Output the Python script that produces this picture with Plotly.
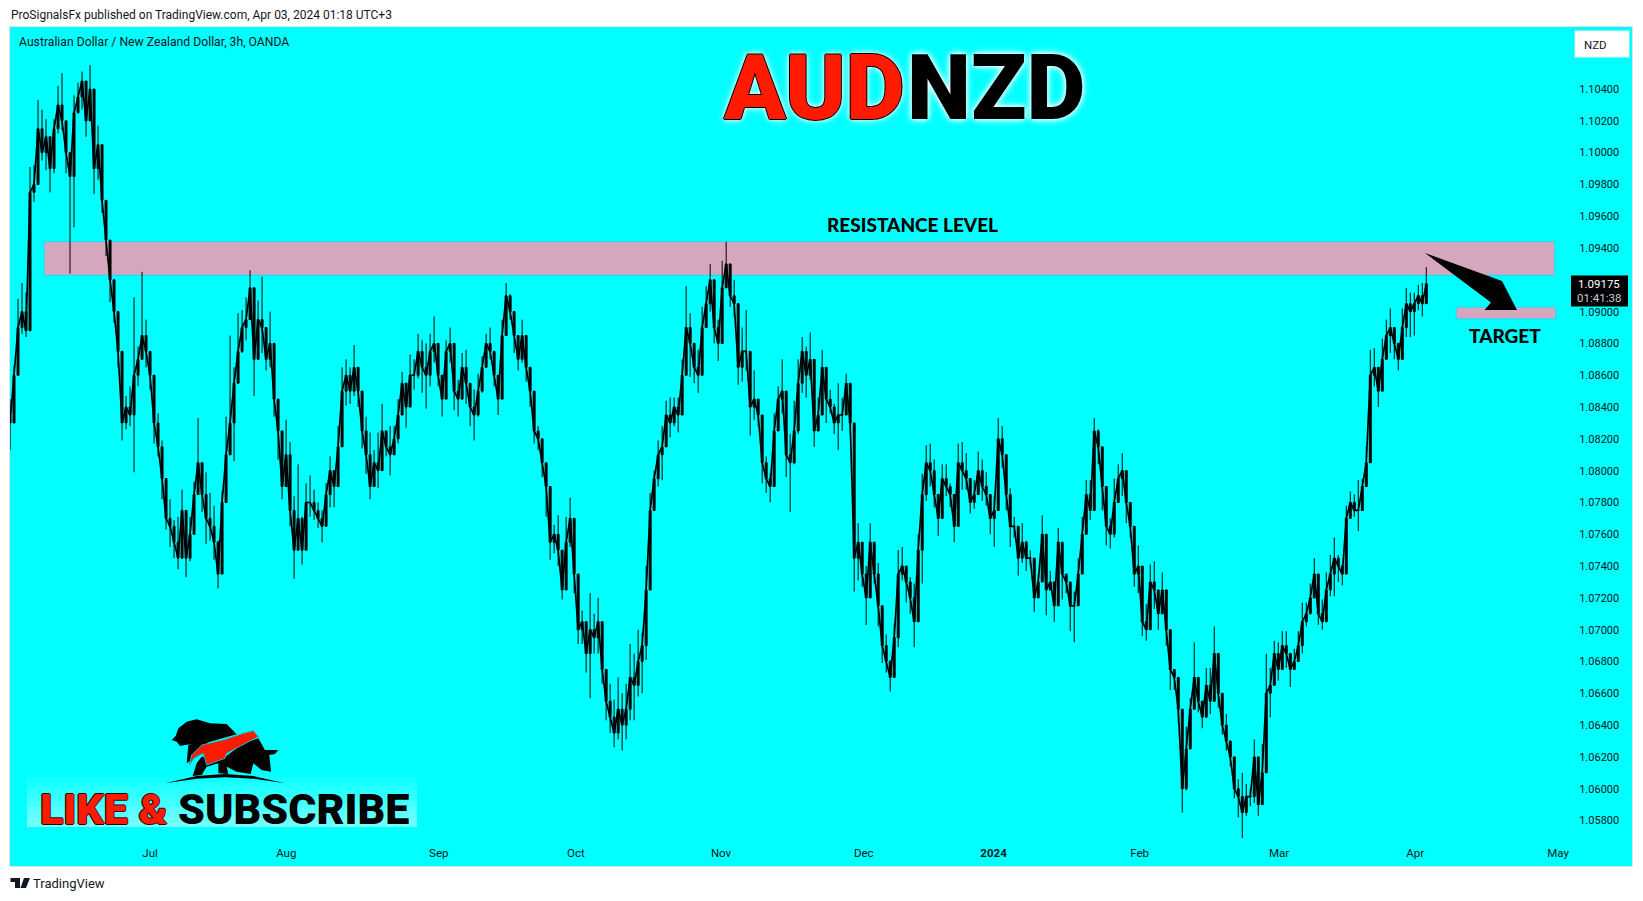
import numpy as np
import plotly.graph_objects as go

# ---- chart data -----------------------------------------------------------
ticker = "AUDNZD"
series_name = "Australian Dollar / New Zealand Dollar, 3h, OANDA"
last_price = 1.09175
countdown = "01:41:38"
price_ticks = [1.104, 1.102, 1.100, 1.098, 1.096, 1.094, 1.090, 1.088, 1.086, 1.084, 1.082,
               1.080, 1.078, 1.076, 1.074, 1.072, 1.070, 1.068, 1.066, 1.064, 1.062, 1.060, 1.058]
month_ticks = ["2023-07-03", "2023-08-01", "2023-09-01 12:00", "2023-10-02 15:00", "2023-11-02", "2023-12-04",
               "2024-01-01", "2024-01-31 12:00", "2024-03-01", "2024-04-01", "2024-05-01"]
month_labels = ["Jul", "Aug", "Sep", "Oct", "Nov", "Dec", "<b>2024</b>", "Feb", "Mar", "Apr", "May"]
resistance_zone = (1.09442, 1.09228)
target_zone = (1.09029, 1.08954)

highs = [
1.0845,1.0866,1.0908,1.0918,1.0912,1.0991,1.0992,1.1033,1.1027,1.1021,1.1008,1.1021,1.1042,1.1050,1.1016,1.0999,
1.1036,1.1044,1.1051,1.1042,1.1055,1.1025,1.1017,1.0983,1.0961,1.0943,1.0918,1.0885,1.0874,1.0847,1.0853,1.0909,
1.0878,1.0925,1.0895,1.0874,1.0857,1.0836,1.0819,1.0782,1.0782,1.0769,1.0771,1.0788,1.0763,1.0771,1.0793,1.0833,
1.0799,1.0799,1.0786,1.0778,1.0756,1.0787,1.0834,1.0885,1.0865,1.0899,1.0901,1.0909,1.0926,1.0884,1.0907,1.0922,
1.0886,1.0900,1.0865,1.0845,1.0817,1.0832,1.0818,1.0784,1.0804,1.0771,1.0792,1.0797,1.0788,1.0780,1.0775,1.0792,
1.0809,1.0797,1.0828,1.0865,1.0870,1.0865,1.0879,1.0859,1.0840,1.0834,1.0824,1.0813,1.0824,1.0842,1.0824,1.0828,
1.0828,1.0845,1.0862,1.0852,1.0873,1.0870,1.0886,1.0882,1.0880,1.0886,1.0897,1.0872,1.0860,1.0882,1.0890,1.0857,
1.0857,1.0874,1.0876,1.0851,1.0851,1.0861,1.0872,1.0886,1.0890,1.0865,1.0859,1.0895,1.0918,1.0911,1.0895,1.0882,
1.0895,1.0878,1.0861,1.0838,1.0828,1.0815,1.0805,1.0768,
1.0766,1.0772,1.0735,1.0771,1.0783,1.0762,1.0716,1.0712,1.0702,1.0723,1.0710,1.0720,1.0691,1.0672,1.0666,1.0656,
1.0670,1.0660,1.0666,1.0691,1.0685,1.0700,1.0698,1.0740,1.0786,1.0800,1.0819,1.0828,1.0844,1.0846,1.0846,1.0846,
1.0870,1.0916,1.0899,1.0878,1.0876,1.0903,1.0916,1.0930,1.0907,1.0895,1.0932,1.0944,1.0924,1.0920,1.0886,1.0890,
1.0901,1.0863,1.0863,1.0842,1.0823,1.0809,1.0798,1.0836,1.0853,1.0870,1.0836,1.0823,1.0844,1.0870,1.0884,1.0878,
1.0887,1.0842,1.0846,1.0876,1.0861,1.0851,1.0842,1.0855,1.0846,1.0861,1.0842,1.0819,1.0767,1.0752,1.0740,1.0767,
1.0748,1.0742,1.0700,1.0697,1.0681,1.0704,1.0750,1.0752,1.0740,1.0733,1.0729,1.0760,1.0798,1.0816,1.0817,1.0807,
1.0781,1.0804,1.0804,1.0792,1.0777,1.0817,1.0818,1.0811,1.0792,1.0794,1.0812,1.0807,1.0799,1.0784,1.0784,1.0833,
1.0828,1.0797,1.0789,1.0771,1.0756,1.0767,1.0756,1.0750,1.0729,1.0735,1.0772,1.0750,1.0737,1.0723,1.0764,1.0752,
1.0735,1.0729,1.0724,1.0745,1.0771,1.0794,1.0794,1.0833,1.0826,
1.0809,1.0778,1.0770,1.0795,1.0804,1.0811,1.0798,1.0771,1.0753,1.0753,1.0714,1.0716,1.0741,1.0743,1.0714,1.0736,
1.0713,1.0690,1.0674,1.0654,1.0640,1.0639,1.0657,1.0692,1.0661,1.0654,1.0676,1.0676,1.0702,1.0671,1.0648,1.0647,
1.0627,1.0608,1.0606,1.0610,1.0603,1.0600,1.0631,1.0606,1.0628,1.0685,1.0676,1.0693,1.0692,1.0699,1.0699,1.0685,
1.0688,1.0699,1.0717,1.0717,1.0729,1.0745,1.0719,1.0719,1.0736,1.0747,1.0758,1.0747,1.0741,1.0778,1.0787,1.0785,
1.0794,1.0795,1.0815,1.0876,1.0877,1.0860,1.0883,1.0895,1.0902,1.0887,1.0880,1.0902,1.0915,1.0912,1.0912,1.0917,
1.0918,1.0928]
lows = [
1.0813,1.0836,1.0886,1.0886,1.0884,1.0907,1.0969,1.1004,1.0995,1.0989,1.0975,1.0987,1.1012,1.1014,1.0987,1.0924,
1.0953,1.1025,1.1027,1.1010,1.1023,1.0974,1.0983,1.0962,1.0935,1.0906,1.0893,1.0865,1.0819,1.0826,1.0828,1.0799,
1.0853,1.0874,1.0865,1.0851,1.0817,1.0809,1.0782,1.0763,1.0752,1.0745,1.0738,1.0754,1.0733,1.0743,1.0763,1.0792,
1.0774,1.0754,1.0756,1.0744,1.0726,1.0764,1.0787,1.0815,1.0806,1.0857,1.0874,1.0882,1.0895,1.0847,1.0872,1.0874,
1.0863,1.0865,1.0834,1.0807,1.0782,1.0800,1.0765,1.0732,1.0760,1.0741,1.0761,1.0771,1.0769,1.0764,1.0755,1.0767,
1.0777,1.0777,1.0800,1.0842,1.0841,1.0842,1.0847,1.0840,1.0814,1.0798,1.0782,1.0798,1.0789,1.0813,1.0809,1.0797,
1.0813,1.0817,1.0840,1.0827,1.0845,1.0851,1.0858,1.0849,1.0839,1.0853,1.0868,1.0853,1.0834,1.0857,1.0868,1.0838,
1.0834,1.0847,1.0842,1.0828,1.0819,1.0834,1.0849,1.0865,1.0870,1.0853,1.0835,1.0865,1.0895,1.0895,1.0874,1.0863,
1.0868,1.0856,1.0840,1.0817,1.0813,1.0796,1.0771,1.0744,
1.0748,1.0740,1.0719,1.0733,1.0752,1.0723,1.0691,1.0691,1.0673,1.0657,1.0685,1.0685,1.0666,1.0643,1.0635,1.0626,
1.0631,1.0624,1.0631,1.0643,1.0643,1.0658,1.0660,1.0681,1.0729,1.0786,1.0790,1.0794,1.0815,1.0821,1.0828,1.0824,
1.0844,1.0874,1.0859,1.0855,1.0849,1.0880,1.0900,1.0900,1.0880,1.0869,1.0890,1.0916,1.0903,1.0897,1.0854,1.0856,
1.0863,1.0822,1.0832,1.0828,1.0792,1.0786,1.0780,1.0790,1.0836,1.0836,1.0796,1.0774,1.0804,1.0823,1.0849,1.0846,
1.0857,1.0815,1.0828,1.0851,1.0830,1.0836,1.0823,1.0813,1.0825,1.0842,1.0823,1.0724,1.0731,1.0727,1.0703,1.0731,
1.0729,1.0702,1.0679,1.0673,1.0661,1.0679,1.0689,1.0731,1.0717,1.0710,1.0689,1.0729,1.0729,1.0781,1.0790,1.0777,
1.0759,1.0786,1.0784,1.0777,1.0755,1.0786,1.0788,1.0788,1.0773,1.0776,1.0790,1.0781,1.0778,1.0760,1.0752,1.0786,
1.0802,1.0775,1.0752,1.0758,1.0734,1.0742,1.0737,1.0740,1.0711,1.0723,1.0740,1.0709,1.0725,1.0705,1.0740,1.0719,
1.0723,1.0699,1.0692,1.0717,1.0746,1.0773,1.0769,1.0792,1.0804,
1.0775,1.0753,1.0751,1.0758,1.0787,1.0784,1.0767,1.0758,1.0727,1.0723,1.0696,1.0693,1.0716,1.0713,1.0700,1.0710,
1.0690,1.0662,1.0662,1.0641,1.0585,1.0599,1.0641,1.0656,1.0648,1.0638,1.0656,1.0647,1.0671,1.0651,1.0634,1.0624,
1.0614,1.0594,1.0582,1.0569,1.0583,1.0589,1.0591,1.0583,1.0600,1.0645,1.0645,1.0668,1.0668,1.0682,1.0676,1.0664,
1.0676,1.0684,1.0685,1.0702,1.0710,1.0721,1.0703,1.0700,1.0716,1.0721,1.0721,1.0730,1.0728,1.0753,1.0770,1.0771,
1.0762,1.0778,1.0798,1.0832,1.0853,1.0840,1.0852,1.0871,1.0874,1.0870,1.0863,1.0880,1.0884,1.0884,1.0885,1.0901,
1.0897,1.0911]
closes = [
1.0830,1.0860,1.0890,1.0900,1.0888,1.0975,1.0980,1.1015,1.1000,1.1010,1.0990,1.1015,1.1030,1.1020,1.1000,1.0985,
1.1025,1.1035,1.1045,1.1020,1.1040,1.0990,1.1005,1.0970,1.0945,1.0920,1.0900,1.0875,1.0830,1.0840,1.0835,1.0860,
1.0870,1.0885,1.0875,1.0860,1.0830,1.0815,1.0795,1.0770,1.0765,1.0755,1.0745,1.0775,1.0745,1.0760,1.0785,1.0805,
1.0785,1.0770,1.0765,1.0755,1.0735,1.0780,1.0810,1.0830,1.0855,1.0875,1.0890,1.0895,1.0915,1.0870,1.0895,1.0890,
1.0870,1.0880,1.0845,1.0825,1.0790,1.0810,1.0775,1.0750,1.0770,1.0750,1.0780,1.0780,1.0775,1.0770,1.0765,1.0785,
1.0800,1.0790,1.0815,1.0850,1.0860,1.0850,1.0865,1.0850,1.0825,1.0810,1.0790,1.0805,1.0800,1.0825,1.0815,1.0810,
1.0820,1.0835,1.0855,1.0840,1.0860,1.0860,1.0875,1.0865,1.0860,1.0875,1.0880,1.0860,1.0845,1.0875,1.0880,1.0850,
1.0845,1.0865,1.0855,1.0840,1.0835,1.0850,1.0865,1.0880,1.0875,1.0860,1.0845,1.0885,1.0910,1.0900,1.0885,1.0870,
1.0885,1.0865,1.0850,1.0825,1.0820,1.0805,1.0790,1.0755,
1.0760,1.0750,1.0725,1.0755,1.0770,1.0735,1.0700,1.0705,1.0685,1.0700,1.0695,1.0705,1.0675,1.0655,1.0645,1.0635,
1.0650,1.0640,1.0650,1.0670,1.0665,1.0680,1.0690,1.0725,1.0775,1.0795,1.0810,1.0815,1.0835,1.0830,1.0840,1.0835,
1.0860,1.0890,1.0880,1.0865,1.0860,1.0890,1.0905,1.0920,1.0890,1.0880,1.0915,1.0930,1.0910,1.0905,1.0865,1.0875,
1.0875,1.0840,1.0845,1.0835,1.0805,1.0795,1.0790,1.0825,1.0845,1.0850,1.0810,1.0805,1.0825,1.0855,1.0875,1.0860,
1.0870,1.0825,1.0835,1.0865,1.0845,1.0840,1.0830,1.0835,1.0835,1.0855,1.0830,1.0745,1.0755,1.0735,1.0720,1.0755,
1.0735,1.0715,1.0690,1.0680,1.0670,1.0695,1.0735,1.0740,1.0730,1.0720,1.0705,1.0750,1.0785,1.0805,1.0800,1.0785,
1.0770,1.0795,1.0790,1.0785,1.0765,1.0805,1.0800,1.0795,1.0780,1.0785,1.0800,1.0790,1.0785,1.0770,1.0775,1.0820,
1.0810,1.0785,1.0765,1.0765,1.0745,1.0755,1.0745,1.0745,1.0720,1.0730,1.0760,1.0725,1.0730,1.0715,1.0755,1.0735,
1.0730,1.0715,1.0715,1.0735,1.0760,1.0785,1.0775,1.0825,1.0815,
1.0790,1.0765,1.0760,1.0780,1.0795,1.0800,1.0780,1.0765,1.0735,1.0740,1.0705,1.0700,1.0730,1.0725,1.0710,1.0725,
1.0700,1.0675,1.0670,1.0650,1.0600,1.0625,1.0650,1.0670,1.0655,1.0645,1.0665,1.0655,1.0685,1.0660,1.0640,1.0630,
1.0620,1.0600,1.0595,1.0585,1.0595,1.0595,1.0620,1.0590,1.0610,1.0660,1.0665,1.0685,1.0675,1.0690,1.0685,1.0675,
1.0680,1.0690,1.0705,1.0710,1.0720,1.0735,1.0710,1.0705,1.0725,1.0735,1.0745,1.0740,1.0735,1.0770,1.0780,1.0775,
1.0775,1.0790,1.0805,1.0860,1.0865,1.0850,1.0870,1.0885,1.0890,1.0880,1.0870,1.0890,1.0905,1.0900,1.0905,1.0910,
1.0905,1.09175]

opens = [closes[0] + 0.0004] + closes[:-1]

# time of each sampled bar: weekdays counted from the first July session
FIRST_WD, STEP_WD = -21.58, 0.6166
def wd_date(wd):
    d = np.floor(wd)
    day = np.busday_offset("2023-07-03", int(d), roll="forward")
    return str(np.datetime64(day, "m") + np.timedelta64(int(round((wd - d) * 1440)), "m"))
dates = [wd_date(FIRST_WD + i * STEP_WD) for i in range(len(closes))]

# ---- page geometry ---------------------------------------------------------
L, R, T, B = 10, 1632, 27, 866
W, H = 1643, 901
def px(x, y):
    return (x - L) / (R - L), (B - y) / (B - T)
def poly(points, fill, width=0, color=None, closed=True):
    xy = [px(*p) for p in points]
    path = "M " + " L ".join(f"{a:.5f},{b:.5f}" for a, b in xy) + (" Z" if closed else "")
    return dict(type="path", xref="paper", yref="paper", path=path, fillcolor=fill,
                line=dict(width=width, color=color or fill), layer="above")
def rect(x0, y0, x1, y1, fill, line_w=0, line_c=None, radius=False):
    a, b = px(x0, y0); c, d = px(x1, y1)
    return dict(type="rect", xref="paper", yref="paper", x0=a, y0=b, x1=c, y1=d, fillcolor=fill,
                line=dict(width=line_w, color=line_c or fill), layer="above")
def label(x, y, text, size, color="#131722", family="Roboto", anchor="center", weight=None, shadow=None):
    a, b = px(x, y)
    f = dict(size=size, color=color, family=family)
    if weight: f["weight"] = weight
    if shadow: f["shadow"] = shadow
    return dict(xref="paper", yref="paper", x=a, y=b, text=text, showarrow=False, font=f,
                xanchor=anchor, yanchor="middle", align=anchor)

CYAN = "#00FFFF"
fig = go.Figure()
fig.add_trace(go.Scatter(x=dates, y=closes, mode="lines", line=dict(color="#000000", width=1.7),
                         showlegend=False, hoverinfo="skip"))
fig.add_trace(go.Candlestick(
    x=dates, open=opens, high=highs, low=lows, close=closes,
    increasing=dict(line=dict(color="#000000", width=1), fillcolor="#000000"),
    decreasing=dict(line=dict(color="#000000", width=1), fillcolor="#000000"),
    whiskerwidth=0, showlegend=False, hoverinfo="skip"))

Z = "#D5A6BD"
shapes = [
    dict(type="rect", xref="x", yref="y", x0="2023-06-08 16:00", x1="2024-04-30 12:00",
         y0=resistance_zone[1], y1=resistance_zone[0], fillcolor=Z, line=dict(color="#00E5FF", width=1), layer="below"),
    dict(type="rect", xref="x", yref="y", x0="2024-04-09 07:00", x1="2024-04-30 16:00",
         y0=target_zone[1], y1=target_zone[0], fillcolor=Z, line=dict(color="#00E5FF", width=1), layer="below"),
    # arrow from the resistance area down to the target
    poly([(1425, 253), (1502, 281), (1517, 310), (1484.5, 310), (1491, 302.5)], "#000000"),
    # last price tag
    rect(1571, 275.5, 1628, 306.5, "#000000"),
    # currency button
    rect(1575, 31, 1629, 57, "#FFFFFF", 1, "#E8ECF2"),
]
# glow behind the subscribe banner
for k in range(11):
    y0 = 772 + k * 5
    shapes.append(rect(27, y0, 417, y0 + 5, f"rgba(255,255,255,{0.045 * k + 0.01:.3f})"))
# logo
def zp(pts):
    return [(10 + a / 3, 700 + b / 3) for a, b in pts]
shapes += [
    poly(zp([(485, 120), (497, 108), (505, 85), (530, 65), (560, 58), (600, 70), (650, 72), (680, 103), (590, 128),
             (550, 132), (525, 135), (510, 138), (500, 125)]), "#000000"),
    poly(zp([(530, 190), (535, 135), (590, 120), (600, 150), (560, 170)]), "#000000"),
    poly(zp([(560, 190), (575, 170), (640, 175), (700, 130), (745, 115), (765, 150), (805, 150), (795, 162), (778, 165),
             (783, 215), (755, 210), (730, 190), (722, 222), (680, 215), (650, 200), (655, 222), (625, 220), (625, 190),
             (590, 200), (575, 225), (548, 228)]), "#000000"),
    poly(zp([(538, 195), (545, 165), (575, 135), (640, 120), (700, 100), (730, 92), (745, 110), (735, 115), (650, 160),
             (645, 175), (590, 195), (580, 160), (555, 170)]), "#FF1A00", 1, "#18B8C0"),
    poly(zp([(465, 250), (560, 228), (645, 222), (730, 228), (825, 250), (730, 236), (645, 232), (560, 236)]), "#000000"),
    # TradingView mark in the footer
    poly([(10.5, 878), (20, 878), (20, 888), (15, 888), (15, 882), (10.5, 882)], "#131722"),
    poly([(24, 878), (30, 878), (26, 888), (20.5, 888)], "#131722"),
]

outline = "1px 0 #000,-1px 0 #000,0 1px #000,0 -1px #000,"
glow = "0 0 5px #fff,0 0 8px #fff"
dark_outline = "1px 0 #300,-1px 0 #300,0 1px #300,0 -1px #300"
annotations = [
    label(9, 15, "ProSignalsFx published on TradingView.com, Apr 03, 2024 01:18 UTC+3", 12, anchor="left"),
    label(17, 42, series_name, 12.2, anchor="left"),
    label(31, 883, "TradingView", 13, anchor="left"),
    label(814, 87.5, ticker[:3], 91, color="#FF1A00", weight=900, shadow=outline + glow),
    label(995.5, 87.5, ticker[3:], 91, color="#000000", weight=900, shadow=glow),
    label(912.5, 224, "RESISTANCE LEVEL", 19, color="#000000", family="Lato", weight=900),
    label(1505, 335.5, "TARGET", 19, color="#000000", family="Lato", weight=900),
    label(1595, 44.5, "NZD", 11.5, anchor="center"),
    label(1599, 284, f"{last_price:.5f}", 11.5, color="#FFFFFF"),
    label(1599, 298, countdown, 11.5, color="#C8CBD3"),
    label(104, 809, "LIKE &", 43, color="#FF1A00", weight=900, shadow=dark_outline),
    label(293, 809, "SUBSCRIBE", 43, color="#000000", weight=900),
]

fig.update_layout(
    width=W, height=H, autosize=False,
    margin=dict(l=L, r=W - R, t=T, b=H - B, pad=0),
    paper_bgcolor="#FFFFFF", plot_bgcolor=CYAN, showlegend=False, dragmode=False,
    shapes=shapes, annotations=annotations,
    xaxis=dict(type="date", range=["2023-06-01 10:00", "2024-05-16 09:36"],
               rangebreaks=[dict(bounds=["sat", "mon"])], rangeslider=dict(visible=False),
               tickmode="array", tickvals=month_ticks, ticktext=month_labels,
               ticks="inside", ticklen=6, tickcolor=CYAN, ticklabelposition="inside",
               tickfont=dict(size=11.5, color="#131722", family="Roboto"),
               showgrid=False, zeroline=False, showline=True, linecolor="#E0E3EB", linewidth=1, mirror=True),
    yaxis=dict(side="right", range=[1.05514, 1.1079], tickmode="array", tickvals=price_ticks,
               ticktext=[f"{v:.5f}" for v in price_ticks],
               ticks="inside", ticklen=12, tickcolor=CYAN, ticklabelposition="inside",
               tickfont=dict(size=11, color="#131722", family="Roboto"),
               showgrid=False, zeroline=False, showline=True, linecolor="#E0E3EB", linewidth=1, mirror=True),
)
fig.write_html("out.html", config=dict(displayModeBar=False),
               post_script="document.body.style.margin='0';")
